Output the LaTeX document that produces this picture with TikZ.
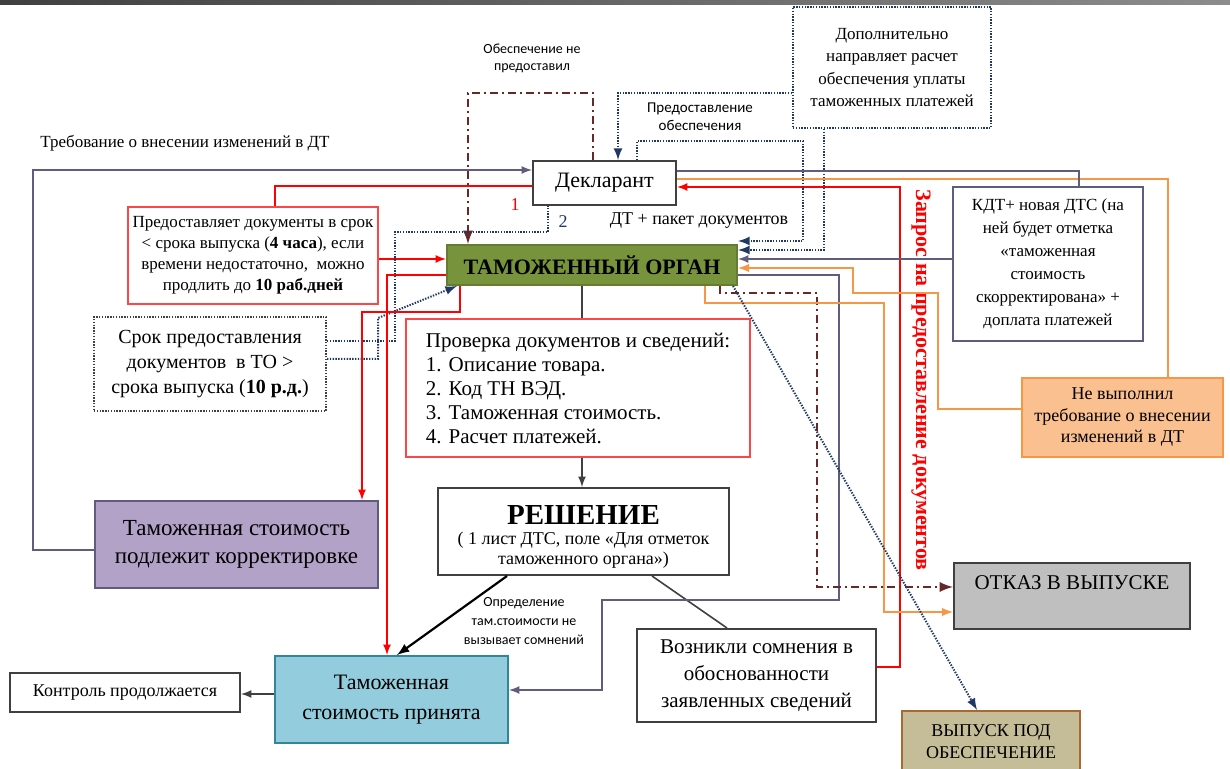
\documentclass[tikz,border=0pt]{standalone}
\usepackage{fontspec}
\setmainfont{Liberation Serif}
\setsansfont{Carlito}
\usetikzlibrary{arrows}

\definecolor{boxgray}{RGB}{64,64,64}
\definecolor{boxred}{RGB}{255,70,70}
\definecolor{linepurple}{RGB}{96,92,128}
\definecolor{lineorange}{RGB}{247,150,70}
\definecolor{linenavy}{RGB}{31,56,100}
\definecolor{linebrown}{RGB}{105,40,40}
\definecolor{togreen}{RGB}{119,147,60}
\definecolor{fillpurple}{RGB}{178,162,199}
\definecolor{fillblue}{RGB}{147,205,221}
\definecolor{lineblue}{RGB}{49,133,156}
\definecolor{fillorange}{RGB}{250,192,144}
\definecolor{fillgray}{RGB}{191,191,191}
\definecolor{filltan}{RGB}{196,189,151}
\definecolor{linetan}{RGB}{170,105,50}

\tikzset{
    box/.style={draw=boxgray, line width=1pt, align=center, inner sep=0pt},
    dotbox/.style={box, dash pattern=on 0.7pt off 0.7pt},
    purpline/.style={draw=linepurple, line width=0.8pt},
    redline/.style={draw=red, line width=0.8pt},
    orline/.style={draw=lineorange, line width=0.9pt},
    dotline/.style={draw=linenavy, line width=1pt, dash pattern=on 0.7pt off 0.7pt},
    ddline/.style={draw=linebrown, line width=1.3pt, dash pattern=on 4pt off 2pt on 1pt off 2pt},
    blkline/.style={draw=boxgray, line width=0.8pt},
    lbl/.style={inner sep=0pt, align=center},
}

\begin{document}
\begin{tikzpicture}[x=0.5pt, y=-0.5pt, >=latex]
    \useasboundingbox (0,0) rectangle (1230,769);
    \shade[left color=black!75, right color=black!45] (0,0) rectangle (1230,5);

    \node[box, minimum width=71.5pt, minimum height=22pt, font=\fontsize{11}{13}\selectfont] (dekl) at (604.5,183) {Декларант};
    \node[box, fill=togreen, draw=togreen!85!black, minimum width=145pt, minimum height=20pt, font=\fontsize{11}{13}\selectfont\bfseries] (to) at (592,265) {ТАМОЖЕННЫЙ ОРГАН};
    \node[dotbox, draw=linenavy, minimum width=99pt, minimum height=60.5pt, font=\fontsize{8.5}{11.25}\selectfont] (dop) at (892,67.5) {Дополнительно\\направляет расчет\\обеспечения уплаты\\таможенных платежей};
    \node[box, draw=boxred, minimum width=125pt, minimum height=48.5pt, font=\fontsize{8.5}{10.5}\selectfont] (predost) at (253,255.5) {Предоставляет документы в срок\\< срока выпуска (\textbf{4 часа}), если\\времени недостаточно,~~можно\\продлить до \textbf{10 раб.дней}};
    \node[dotbox, minimum width=116pt, minimum height=47pt, font=\fontsize{10}{12.5}\selectfont] (srok) at (210,364) {Срок предоставления\\документов~~в ТО >\\срока выпуска (\textbf{10 р.д.})};
    \node[box, fill=fillpurple, draw=linepurple, minimum width=141.5pt, minimum height=43.5pt, font=\fontsize{11.5}{14}\selectfont] (korr) at (236.5,544.5) {Таможенная стоимость\\подлежит корректировке};
    \node[box, draw=boxred, minimum width=172pt, minimum height=69pt, align=left, font=\fontsize{10.5}{12}\selectfont] (prov) at (578,388) {Проверка документов и сведений:\\1. Описание товара.\\2. Код ТН ВЭД.\\3. Таможенная стоимость.\\4. Расчет платежей.};
    \node[box, minimum width=145.5pt, minimum height=43.5pt, font=\fontsize{9}{10}\selectfont] (resh) at (583.5,531.5) {{\fontsize{14.5}{16}\selectfont\bfseries\rule{0pt}{15pt}РЕШЕНИЕ}\\( 1 лист ДТС, поле «Для отметок\\таможенного органа»)};
    \node[box, fill=fillblue, draw=lineblue, minimum width=116.5pt, minimum height=43.5pt, font=\fontsize{11}{15}\selectfont] (prin) at (391.5,699.5) {Таможенная\\стоимость принята};
    \node[box, minimum width=115pt, minimum height=19.5pt, font=\fontsize{9}{11}\selectfont] (kontr) at (125,692.5) {Контроль продолжается};
    \node[box, minimum width=119.5pt, minimum height=46.5pt, font=\fontsize{10.5}{13.5}\selectfont] (vozn) at (756.5,675.5) {Возникли сомнения в\\обоснованности\\заявленных сведений};
    \node[box, draw=linepurple, minimum width=95pt, minimum height=77pt, font=\fontsize{8.5}{11.5}\selectfont] (kdt) at (1048,264) {КДТ+ новая ДТС (на\\ней будет отметка\\«таможенная\\стоимость\\скорректирована» +\\доплата платежей};
    \node[box, fill=fillorange, draw=lineorange, minimum width=100.5pt, minimum height=39.5pt, font=\fontsize{9}{10.75}\selectfont] (nevyp) at (1122.5,417.5) {Не выполнил\\требование о внесении\\изменений в ДТ};
    \node[box, fill=fillgray, minimum width=118pt, minimum height=33pt, text depth=13pt, font=\fontsize{10.5}{12}\selectfont] (otkaz) at (1072,596) {ОТКАЗ В ВЫПУСКЕ};
    \node[box, fill=filltan, draw=linetan, minimum width=89pt, minimum height=30.5pt, font=\fontsize{9}{11}\selectfont] (vyp) at (991,741.5) {ВЫПУСК ПОД\\ОБЕСПЕЧЕНИЕ};

    \node[lbl, font=\fontsize{8.5}{10}\selectfont] (treb) at (185,143) {Требование о внесении изменений в ДТ};
    \node[lbl, font=\sffamily\fontsize{7}{8.5}\selectfont] (obesp) at (532,58) {Обеспечение не\\предоставил};
    \node[lbl, font=\sffamily\fontsize{7.5}{9}\selectfont] (predobesp) at (700,117) {Предоставление\\обеспечения};
    \node[lbl, font=\fontsize{9}{10}\selectfont] (paket) at (699,221) {ДТ + пакет документов};
    \node[lbl, text=red, font=\fontsize{9}{10}\selectfont] (n1) at (515,205) {1};
    \node[lbl, text=linenavy, font=\fontsize{9}{10}\selectfont] (n2) at (563,222) {2};
    \node[lbl, text=red, rotate=-90, font=\fontsize{11}{12}\selectfont\bfseries] (zapros) at (921,380) {Запрос на предоставление документов};
    \node[lbl, font=\sffamily\fontsize{7}{9.5}\selectfont] (opred) at (524,621) {Определение\\там.стоимости не\\вызывает сомнений};

    \draw[purpline, ->] (korr.west |- 0,550) -- (33,550) -- (33,170) -- (dekl.west |- 0,170);
    \draw[redline] (predost.north -| 275,0) |- (dekl.west |- 0,186);
    \draw[redline, ->] (predost.east |- 0,259) -- (to.west |- 0,259);
    \draw[redline, ->] (vozn.east |- 0,667) -- (900,667) -- (900,187) -- (dekl.east |- 0,187);
    \draw[ddline, ->] (dekl.north -| 593,0) -- (593,93) -- (468,93) -- (to.north -| 468,0);
    \draw[dotline, ->] (dop.west |- 0,93) -| (dekl.north -| 618,0);
    \draw[dotline, ->] (dekl.north -| 637,0) -- (637,141) -- (803,141) -- (803,241) -- (to.east |- 0,241);
    \draw[dotline, ->] (dop.south -| 824,0) |- (to.east |- 0,250);
    \draw[dotline] (srok.east |- 0,341) -- (395,341) -- (395,232) -- (548,232) -- (dekl.south -| 548,0);
    \draw[dotline, ->] (srok.east |- 0,359) -- (378,359) -- (378,318) -- (to.south -| 457,0);
    \draw[redline, ->] (to.west |- 0,275) -- (387,275) -- (prin.north -| 387,0);
    \draw[redline, ->] (to.south -| 460,0) -- (460,312) -- (362,312) -- (korr.north -| 362,0);
    \draw[blkline] (to.south -| 582,0) -- (prov.north -| 582,0);
    \draw[blkline, ->] (prov.south -| 582,0) -- (resh.north -| 582,0);
    \draw[blkline, line width=1.1pt, draw=black, ->] (resh.south -| 507,0) -- (prin.north -| 397,0);
    \draw[blkline] (resh.south -| 652,0) -- (vozn.north -| 727,0);
    \draw[blkline, ->] (prin.west |- 0,694) -- (kontr.east |- 0,694);
    \draw[purpline, ->] (to.east |- 0,275) -- (839,275) -- (839,600) -- (602,600) -- (602,690) -- (prin.east |- 0,690);
    \draw[ddline, ->] (to.south -| 720,0) -- (720,293) -- (817,293) -- (817,587) -- (otkaz.west |- 0,587);
    \draw[orline, ->] (to.south -| 705,0) -- (705,303) -- (884,303) -- (884,612) -- (otkaz.west |- 0,612);
    \draw[orline, ->] (nevyp.west |- 0,409) -- (938,409) -- (938,293) -- (853,293) -- (853,268) -- (to.east |- 0,268);
    \draw[orline] (nevyp.north -| 1168,0) -- (1168,179) -- (dekl.east |- 0,179);
    \draw[purpline, ->] (kdt.west |- 0,259) -- (to.east |- 0,259);
    \draw[purpline] (kdt.north -| 1079,0) -- (1079,171) -- (dekl.east |- 0,171);
    \draw[dotline, ->] (to.south -| 733,0) -- (vyp.north -| 977,0);
\end{tikzpicture}
\end{document}
